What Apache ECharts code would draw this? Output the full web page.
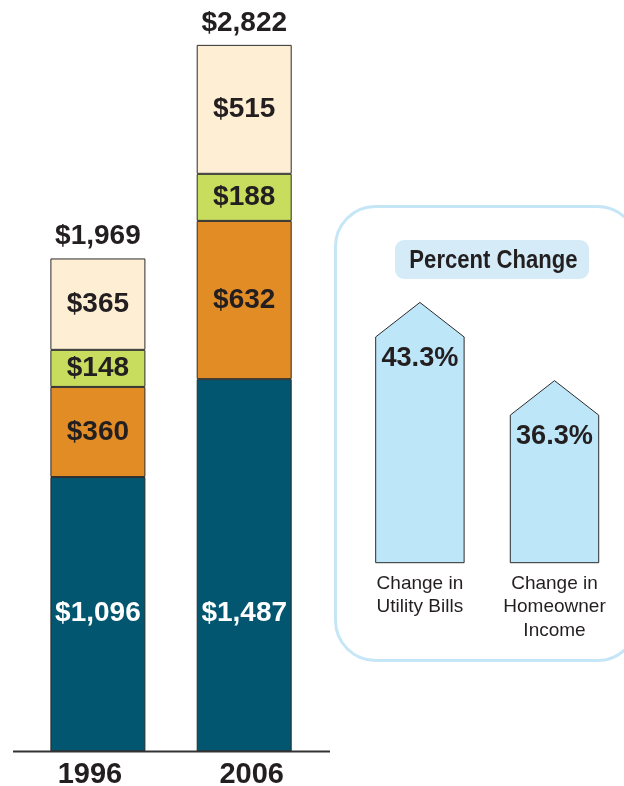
<!DOCTYPE html>
<html>
<head>
<meta charset="utf-8">
<style>
  html, body { margin: 0; padding: 0; background: #ffffff; }
  #chart { width: 624px; height: 786px; }
</style>
<script src="https://cdn.jsdelivr.net/npm/echarts@6/dist/echarts.min.js"></script>
</head>
<body>
<div id="chart"></div>
<script>
// ---- Data ----
const years = ['1996', '2006'];
const seg1 = [1096, 1487];   // bottom (dark blue)
const seg2 = [360, 632];     // orange
const seg3 = [148, 188];     // green
const seg4 = [365, 515];     // cream (top)
const totals = [1969, 2822];

const changeCategories = ['Change in\nUtility Bills', 'Change in\nHomeowner\nIncome'];
const changeValues = [43.3, 36.3];
const panelTitle = 'Percent Change';

// ---- Styling ----
const FONT = '"Liberation Sans", Arial, Helvetica, sans-serif';
const DARK = '#231F20';
const money = v => '$' + Number(v).toLocaleString('en-US');

const chart = echarts.init(document.getElementById('chart'), null, { renderer: 'canvas' });

function barSeries(name, data, color, textColor, labelExtra) {
  return {
    name: name,
    type: 'bar',
    stack: 'total',
    xAxisIndex: 0,
    yAxisIndex: 0,
    barWidth: 95,
    data: data,
    itemStyle: { color: color, borderColor: '#2b2b2b', borderWidth: 1 },
    label: Object.assign({
      show: true,
      position: 'inside',
      formatter: p => money(p.value),
      fontFamily: FONT,
      fontWeight: 'bold',
      fontSize: 28,
      color: textColor
    }, labelExtra || {}),
    emphasis: { disabled: true },
    silent: true
  };
}

const option = {
  animation: false,
  backgroundColor: '#ffffff',
  grid: [
    { left: 24.75, width: 292.6, top: 0.3, height: 751.2, containLabel: false, outerBoundsMode: 'none' },
    { left: 352.6, width: 269.2, top: 227.6, height: 335.1, containLabel: false, outerBoundsMode: 'none' }
  ],
  xAxis: [
    {
      type: 'category',
      gridIndex: 0,
      data: years,
      axisLine: { show: false },
      axisTick: { show: false },
      axisLabel: {
        margin: 9,
        formatter: (v, i) => i === 0 ? '{a|' + v + '}' : '{b|' + v + '}',
        rich: {
          a: { fontFamily: FONT, fontWeight: 'bold', fontSize: 29, color: DARK, padding: [0, 16, 0, 0] },
          b: { fontFamily: FONT, fontWeight: 'bold', fontSize: 29, color: DARK, padding: [0, 0, 0, 15] }
        }
      }
    },
    {
      type: 'category',
      gridIndex: 1,
      data: changeCategories,
      axisLine: { show: false },
      axisTick: { show: false },
      axisLabel: {
        margin: 9,
        fontFamily: FONT,
        fontSize: 19,
        lineHeight: 23.5,
        color: DARK,
        interval: 0
      }
    }
  ],
  yAxis: [
    { type: 'value', gridIndex: 0, min: 0, max: 3000, show: false },
    { type: 'value', gridIndex: 1, min: 20, max: 50, show: false }
  ],
  series: [
    barSeries('Segment 1', seg1, '#02566F', '#ffffff', { position: 'insideBottom', distance: 124 }),
    barSeries('Segment 2', seg2, '#E28C26', DARK),
    barSeries('Segment 3', seg3, '#C8DC5E', DARK),
    barSeries('Segment 4', seg4, '#FEEFD4', DARK),
    {
      name: 'Total',
      type: 'scatter',
      xAxisIndex: 0,
      yAxisIndex: 0,
      data: totals,
      symbolSize: 0,
      silent: true,
      itemStyle: { opacity: 1, color: DARK },
      emphasis: { disabled: true },
      label: {
        show: true,
        position: 'top',
        distance: 8,
        formatter: p => money(p.value),
        fontFamily: FONT,
        fontWeight: 'bold',
        fontSize: 28,
        color: DARK,
        opacity: 1
      }
    },
    {
      name: 'Percent Change',
      type: 'custom',
      xAxisIndex: 1,
      yAxisIndex: 1,
      data: changeValues.map((v, i) => [i, v]),
      silent: true,
      renderItem: function (params, api) {
        const top = api.coord([api.value(0), api.value(1)]);
        const base = api.coord([api.value(0), 20]);
        const w = api.size([1, 0])[0] * 0.657;
        const roof = 34.5;
        const x = top[0];
        const l = x - w / 2, r = x + w / 2;
        const ty = top[1] + roof + 21;
        return {
          type: 'group',
          children: [
            {
              type: 'polygon',
              shape: { points: [[l, base[1]], [l, top[1] + roof], [x, top[1]], [r, top[1] + roof], [r, base[1]]] },
              style: { fill: '#BEE6F9', stroke: '#2b2b2b', lineWidth: 1 }
            },
            {
              type: 'text',
              x: x,
              y: ty,
              scaleX: 0.97,
              style: {
                text: api.value(1).toFixed(1) + '%',
                x: 0,
                y: 0,
                align: 'center',
                verticalAlign: 'middle',
                fontFamily: FONT,
                fontWeight: 'bold',
                fontSize: 28,
                fill: DARK
              }
            }
          ]
        };
      }
    }
  ],
  graphic: [
    {
      type: 'line',
      z: 100,
      shape: { x1: 13, y1: 751.5, x2: 330, y2: 751.5 },
      style: { stroke: '#333333', lineWidth: 2 }
    },
    {
      type: 'rect',
      z: -1,
      shape: { x: 335.5, y: 206.5, width: 302, height: 454, r: 40 },
      style: { fill: 'none', stroke: '#C5E6F6', lineWidth: 3 }
    },
    {
      type: 'rect',
      shape: { x: 395, y: 240, width: 194, height: 39, r: 9 },
      style: { fill: '#D5ECF8' }
    },
    {
      type: 'text',
      x: 493.5,
      y: 261,
      scaleX: 0.85,
      style: {
        text: panelTitle,
        x: 0,
        y: 0,
        align: 'center',
        verticalAlign: 'middle',
        fontFamily: FONT,
        fontWeight: 'bold',
        fontSize: 26,
        fill: DARK
      }
    }
  ]
};

chart.setOption(option);
</script>
</body>
</html>
